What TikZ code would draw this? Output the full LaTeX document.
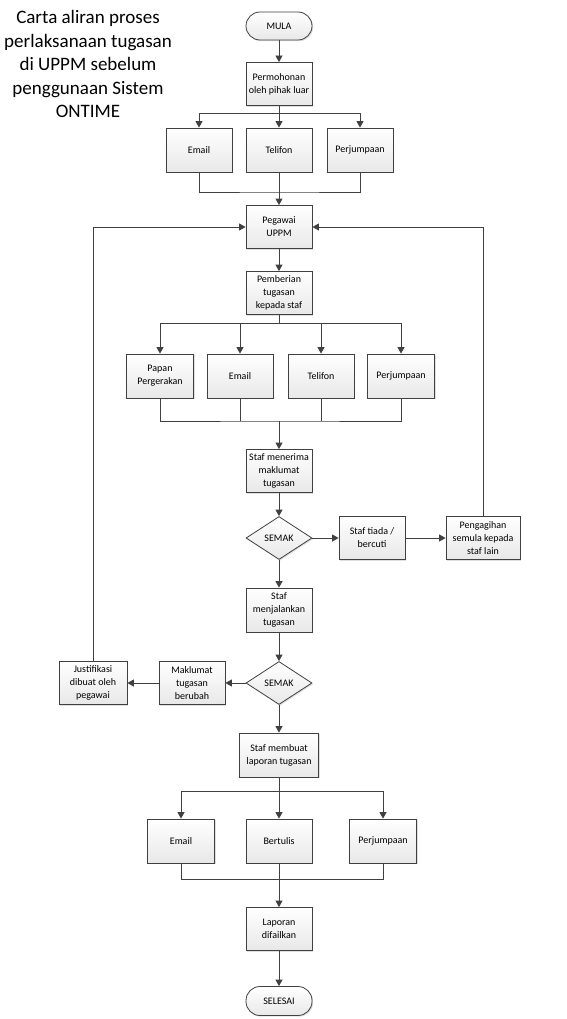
\documentclass[tikz,border=0pt]{standalone}
\usepackage{fontspec}
\setmainfont{Carlito}
\usetikzlibrary{arrows.meta,shapes.geometric,shadows}
\definecolor{linec}{HTML}{404040}
\begin{document}
\begin{tikzpicture}[x=1pt,y=-1pt,
  shade/.style={top color=white, bottom color=black!9,
    drop shadow={shadow xshift=1.2pt, shadow yshift=-1.2pt, opacity=0.25}},
  box/.style={draw=linec, line width=0.8pt, shade, minimum width=66pt, minimum height=43pt,
    inner sep=1pt, align=center, font=\fontsize{10}{13}\selectfont},
  term/.style={box, rounded corners=14pt, minimum height=28pt},
  dia/.style={diamond, draw=linec, line width=0.8pt, shade, minimum width=66pt, minimum height=43pt,
    aspect=1.5, inner sep=0pt, font=\fontsize{10}{13}\selectfont},
  line/.style={draw=linec, line width=0.8pt},
  arr/.style={line, -{Triangle[length=6.5pt,width=7pt]}}
]
\useasboundingbox (0,0) rectangle (566,1019);
\node[align=center, font=\fontsize{19}{23.5}\selectfont] (title) at (88,64)
  {Carta aliran proses\\perlaksanaan tugasan\\di UPPM sebelum\\penggunaan Sistem\\ONTIME};

\node[term] (mula) at (279,26) {MULA};
\node[box] (perm) at (279,84) {Permohonan\\oleh pihak luar};
\coordinate (s1) at (279,113);
\node[box, minimum height=44pt] (e1) at (199,150) {Email};
\node[box, minimum height=44pt] (t1) at (279,150) {Telifon};
\node[box, minimum height=44pt] (p1) at (360,150) {Perjumpaan};
\coordinate (j1) at (279,192);
\node[box] (peg) at (279,227) {Pegawai\\UPPM};
\node[box] (pemb) at (279,293) {Pemberian\\tugasan\\kepada staf};
\coordinate (s2) at (279,323);
\node[box, minimum width=67pt, minimum height=44pt] (papan) at (160,376) {Papan\\Pergerakan};
\node[box, minimum height=44pt] (e2) at (240,376) {Email};
\node[box, minimum height=44pt] (t2) at (321,376) {Telifon};
\node[box, minimum width=67pt, minimum height=44pt] (p2) at (401,376) {Perjumpaan};
\coordinate (j2) at (279,421);
\node[box] (terima) at (279,471) {Staf menerima\\maklumat\\tugasan};
\node[dia] (semak1) at (279,538) {SEMAK};
\node[box] (tiada) at (372,538) {Staf tiada /\\bercuti};
\node[box, minimum width=74pt] (agih) at (483,538) {Pengagihan\\semula kepada\\staf lain};
\node[box, minimum height=44pt] (jalan) at (279,610) {Staf\\menjalankan\\tugasan};
\node[dia] (semak2) at (279,683) {SEMAK};
\node[box] (mak) at (192,683) {Maklumat\\tugasan\\berubah};
\node[box, minimum width=68pt] (just) at (93,683) {Justifikasi\\dibuat oleh\\pegawai};
\node[box, minimum width=79pt, minimum height=44pt] (buat) at (279,755) {Staf membuat\\laporan tugasan};
\coordinate (s3) at (279,791);
\node[box, minimum width=67pt, minimum height=44pt] (e3) at (181,841) {Email};
\node[box, minimum height=44pt] (b3) at (279,841) {Bertulis};
\node[box, minimum width=67pt, minimum height=44pt] (p3) at (383,841) {Perjumpaan};
\coordinate (j3) at (279,879);
\node[box] (lap) at (279,929) {Laporan\\difailkan};
\node[term, minimum height=29pt] (selesai) at (279,1001) {SELESAI};

% top section
\draw[arr] (mula) -- (perm);
\draw[line] (perm.south) -- (s1);
\draw[arr] (s1) -| (e1.north);
\draw[arr] (s1) -- (t1.north);
\draw[arr] (s1) -| (p1.north);
\draw[line] (e1.south) |- (j1) -| (p1.south);
\draw[line] (t1.south) -- (j1);
\draw[arr] (j1) -- (peg.north);
\draw[arr] (peg) -- (pemb);
% second split
\draw[line] (pemb.south) -- (s2);
\draw[arr] (s2) -| (papan.north);
\draw[arr] (s2) -| (e2.north);
\draw[arr] (s2) -| (t2.north);
\draw[arr] (s2) -| (p2.north);
\draw[line] (papan.south) |- (j2) -| (p2.south);
\draw[line] (e2.south) -- (e2.south |- j2);
\draw[line] (t2.south) -- (t2.south |- j2);
\draw[arr] (j2) -- (terima.north);
\draw[arr] (terima) -- (semak1);
\draw[arr] (semak1) -- (tiada);
\draw[arr] (tiada) -- (agih);
\draw[arr] (agih.north) |- (peg.east);
\draw[arr] (semak1) -- (jalan);
\draw[arr] (jalan) -- (semak2);
\draw[arr] (semak2) -- (mak);
\draw[arr] (mak) -- (just);
\draw[arr] (just.north) |- (peg.west);
\draw[arr] (semak2) -- (buat);
% third split
\draw[line] (buat.south) -- (s3);
\draw[arr] (s3) -| (e3.north);
\draw[arr] (s3) -- (b3.north);
\draw[arr] (s3) -| (p3.north);
\draw[line] (e3.south) |- (j3) -| (p3.south);
\draw[line] (b3.south) -- (j3);
\draw[arr] (j3) -- (lap.north);
\draw[arr] (lap) -- (selesai);
\end{tikzpicture}
\end{document}
